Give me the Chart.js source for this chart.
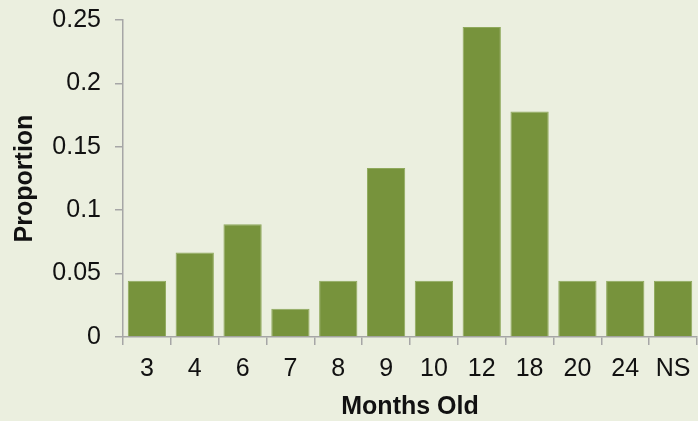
<!DOCTYPE html>
<html>
<head>
<meta charset="utf-8">
<script src="https://cdn.jsdelivr.net/npm/chart.js@4"></script>
<style>
html,body{margin:0;padding:0;background:#ebefdf;}
#wrap{width:698px;height:421px;position:relative;}
</style>
</head>
<body>
<div id="wrap"><canvas id="c" width="698" height="421"></canvas></div>
<script>
const categories = ["3","4","6","7","8","9","10","12","18","20","24","NS"];
const proportions = [0.0444,0.0667,0.0889,0.0222,0.0444,0.1333,0.0444,0.2444,0.1778,0.0444,0.0444,0.0444];
const yTicks = [0,0.05,0.1,0.15,0.2,0.25];
const xTitle = "Months Old";
const yTitle = "Proportion";

const bg = {
  id:'bg',
  beforeDraw(chart){
    const ctx = chart.ctx;
    ctx.save();
    ctx.fillStyle = '#ebefdf';
    ctx.fillRect(0,0,chart.width,chart.height);
    ctx.restore();
  }
};

const axisColor = '#a6a6a6';
const font = {family:"'Liberation Sans', Arial, sans-serif", size:25};

new Chart(document.getElementById('c'), {
  type:'bar',
  data:{
    labels:categories,
    datasets:[{
      data:proportions,
      backgroundColor:'#77933c',
      borderColor:'#8fa95c',
      borderWidth:1,
      barPercentage:0.8,
      categoryPercentage:1.0
    }]
  },
  options:{
    responsive:false,
    animation:false,
    devicePixelRatio:1,
    layout:{padding:{top:20,right:1,left:0,bottom:0}},
    plugins:{legend:{display:false},tooltip:{enabled:false}},
    scales:{
      x:{
        offset:true,
        grid:{display:true,offset:true,drawOnChartArea:false,drawTicks:true,tickLength:8,color:axisColor,lineWidth:1.5},
        border:{display:true,color:axisColor,width:1.5},
        ticks:{color:'#111',font:font,padding:9,maxRotation:0,autoSkip:false},
        title:{display:true,text:xTitle,color:'#111',font:{family:font.family,size:25,weight:'bold',lineHeight:1},padding:{top:0,bottom:1}},
        afterFit(scale){scale.height = 84; scale.paddingLeft = 0; scale.paddingRight = 0;}
      },
      y:{
        min:0,max:0.25,
        afterBuildTicks(scale){scale.ticks = yTicks.map(v=>({value:v}));},
        grid:{display:true,drawOnChartArea:false,drawTicks:true,tickLength:8,color:axisColor,lineWidth:1.5},
        border:{display:true,color:axisColor,width:1.5},
        ticks:{color:'#111',font:font,padding:14,callback:v=>String(v)},
        title:{display:true,text:yTitle,color:'#111',font:{family:font.family,size:25,weight:'bold',lineHeight:1},padding:{top:13,bottom:0}},
        afterFit(scale){scale.width = 123; scale.paddingTop = 0; scale.paddingBottom = 0;}
      }
    }
  },
  plugins:[bg]
});
</script>
</body>
</html>
